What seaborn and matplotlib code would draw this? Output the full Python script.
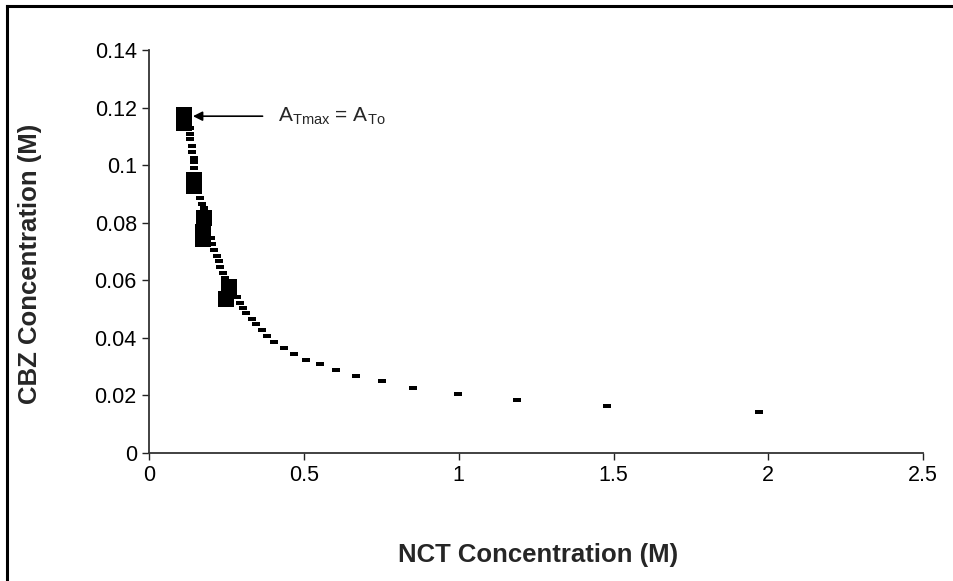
import matplotlib
matplotlib.use("Agg")
import matplotlib.pyplot as plt
from matplotlib.lines import Line2D
import seaborn as sns
import pandas as pd

# ---- data ----
exp_nct = [0.113, 0.113, 0.145, 0.145, 0.177, 0.172, 0.172, 0.2565, 0.2485]
exp_cbz = [0.1174, 0.1147, 0.0949, 0.0927, 0.0817, 0.0768, 0.0742, 0.0577, 0.0535]

fit_nct = [0.131, 0.132, 0.133, 0.137, 0.139, 0.143, 0.144, 0.145, 0.164, 0.170,
           0.176, 0.199, 0.204, 0.210, 0.218, 0.224, 0.229, 0.238, 0.245, 0.282,
           0.293, 0.304, 0.314, 0.331, 0.345, 0.365, 0.381, 0.404, 0.435, 0.467,
           0.506, 0.552, 0.603, 0.668, 0.751, 0.853, 0.997, 1.189, 1.480, 1.969]
fit_cbz = [0.1130, 0.1108, 0.1089, 0.1068, 0.1046, 0.1025, 0.1009, 0.0991, 0.0887, 0.0866,
           0.0851, 0.0747, 0.0726, 0.0705, 0.0684, 0.0667, 0.0647, 0.0626, 0.0607, 0.0543,
           0.0522, 0.0504, 0.0487, 0.0464, 0.0447, 0.0425, 0.0406, 0.0386, 0.0365, 0.0343,
           0.0322, 0.0310, 0.0288, 0.0268, 0.0248, 0.0225, 0.0205, 0.0183, 0.0162, 0.0143]

x_ticks = [0, 0.5, 1, 1.5, 2, 2.5]
x_tick_labels = ["0", "0.5", "1", "1.5", "2", "2.5"]
y_ticks = [0, 0.02, 0.04, 0.06, 0.08, 0.10, 0.12, 0.14]
y_tick_labels = ["0", "0.02", "0.04", "0.06", "0.08", "0.1", "0.12", "0.14"]

x_label = "NCT Concentration (M)"
y_label = "CBZ Concentration (M)"
annot_point = (0.141, 0.117)

# ---- styling ----
sns.set_style("ticks")
plt.rcParams["font.family"] = ["Liberation Sans", "DejaVu Sans"]
plt.rcParams["mathtext.fontset"] = "custom"
plt.rcParams["mathtext.rm"] = "Liberation Sans"
plt.rcParams["mathtext.it"] = "Liberation Sans"

fig = plt.figure(figsize=(9.54, 5.81), dpi=100)
ax = fig.add_axes([0.1565, 0.2208, 0.9675 - 0.1565, 0.9139 - 0.2208])

fit_df = pd.DataFrame({"NCT": fit_nct, "CBZ": fit_cbz})
exp_df = pd.DataFrame({"NCT": exp_nct, "CBZ": exp_cbz})

dash_marker = [(-1, -0.42), (1, -0.42), (1, 0.42), (-1, 0.42), (-1, -0.42)]
sns.scatterplot(data=fit_df, x="NCT", y="CBZ", ax=ax, marker=dash_marker,
                s=34, color="black", linewidth=0, zorder=3)
sns.scatterplot(data=exp_df, x="NCT", y="CBZ", ax=ax, marker="s",
                s=135, color="black", linewidth=0, zorder=4)

ax.set_xlim(0, 2.5)
ax.set_ylim(0, 0.14)
ax.set_xticks(x_ticks)
ax.set_xticklabels(x_tick_labels)
ax.set_yticks(y_ticks)
ax.set_yticklabels(y_tick_labels)
ax.tick_params(axis="both", direction="out", length=5, width=1.0,
               colors="#222222", labelsize=15.5, labelcolor="black", pad=4)
for side in ["top", "right"]:
    ax.spines[side].set_visible(False)
for side in ["left", "bottom"]:
    ax.spines[side].set_color("#333333")
    ax.spines[side].set_linewidth(1.3)

ax.set_xlabel(x_label, fontsize=18.5, fontweight="bold", va="center", ha="center")
ax.xaxis.set_label_coords(0.503, -0.254)
ax.set_ylabel(y_label, fontsize=18.5, fontweight="bold", va="center", ha="center")
ax.yaxis.set_label_coords(-0.154, 0.469)

ax.annotate("", xy=annot_point, xytext=(0.366, annot_point[1]),
            arrowprops=dict(arrowstyle="-|>", color="black", lw=1.2,
                            mutation_scale=14, shrinkA=0, shrinkB=0))
ax.text(0.415, annot_point[1], r"A$_{\mathrm{Tmax}}$ = A$_{\mathrm{To}}$",
        fontsize=15, va="center", ha="left")

# outer frame (Excel chart area border, partly cropped)
fig.add_artist(Line2D([7 / 954, 7 / 954], [0, 1 - 6 / 581], transform=fig.transFigure,
                      color="black", lw=2.2, solid_capstyle="projecting"))
fig.add_artist(Line2D([7 / 954, 1.0], [1 - 6 / 581, 1 - 6 / 581], transform=fig.transFigure,
                      color="black", lw=2.2, solid_capstyle="projecting"))

fig.savefig("out.png", dpi=100)
